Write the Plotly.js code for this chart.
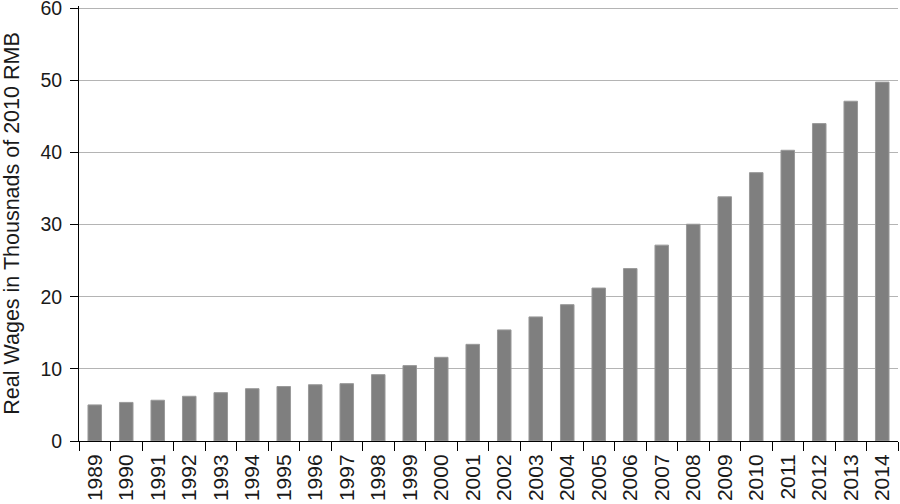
<!DOCTYPE html>
<html>
<head>
<meta charset="utf-8">
<script src="https://cdn.plot.ly/plotly-3.0.1.min.js"></script>
<style>
html, body { margin: 0; padding: 0; background: #fff; }
#chart { width: 900px; height: 504px; }
</style>
</head>
<body>
<div id="chart"></div>
<script>
const years = ["1989","1990","1991","1992","1993","1994","1995","1996","1997","1998","1999","2000","2001",
               "2002","2003","2004","2005","2006","2007","2008","2009","2010","2011","2012","2013","2014"];
const realWages = [5.0, 5.35, 5.65, 6.2, 6.7, 7.25, 7.55, 7.8, 7.95, 9.2, 10.45, 11.6, 13.4,
                   15.4, 17.2, 18.9, 21.2, 23.9, 27.15, 30.05, 33.85, 37.2, 40.3, 44.0, 47.1, 49.75];
const yTicks = [0, 10, 20, 30, 40, 50, 60];
const yTitle = "Real Wages in Thousnads of 2010 RMB";

const trace = {
  type: "bar",
  x: years,
  y: realWages,
  marker: { color: "#7f7f7f", line: { color: "#9a9a9a", width: 1 } },
  hoverinfo: "x+y"
};

const layout = {
  width: 900,
  height: 504,
  margin: { l: 79, r: 2, t: 6, b: 63, pad: 0 },
  paper_bgcolor: "#ffffff",
  plot_bgcolor: "#ffffff",
  bargap: 0.57,
  showlegend: false,
  font: { family: "Liberation Sans, Arial, Helvetica, sans-serif", color: "#1a1a1a", size: 20 },
  xaxis: {
    type: "category",
    showline: true,
    linecolor: "#000",
    linewidth: 1,
    ticks: "outside",
    tickson: "boundaries",
    ticklen: 9,
    tickcolor: "#000",
    tickangle: -90,
    ticklabelstandoff: 4,
    ticklabeloverflow: "allow",
    tickfont: { size: 21, color: "#1a1a1a" },
    showgrid: false,
    automargin: false
  },
  yaxis: {
    range: [0, 60.3],
    tickvals: yTicks,
    showline: true,
    linecolor: "#000",
    linewidth: 1,
    ticks: "outside",
    ticklen: 8,
    tickcolor: "#000",
    ticklabelstandoff: 4,
    ticklabeloverflow: "allow",
    tickfont: { size: 19.5, color: "#1a1a1a" },
    showgrid: true,
    gridcolor: "#b4b4b4",
    gridwidth: 1,
    zeroline: false,
    automargin: false,
    title: { text: yTitle, font: { size: 21.5, color: "#1a1a1a" }, standoff: 15 }
  }
};

Plotly.newPlot("chart", [trace], layout, { displayModeBar: false, staticPlot: true });
</script>
</body>
</html>
